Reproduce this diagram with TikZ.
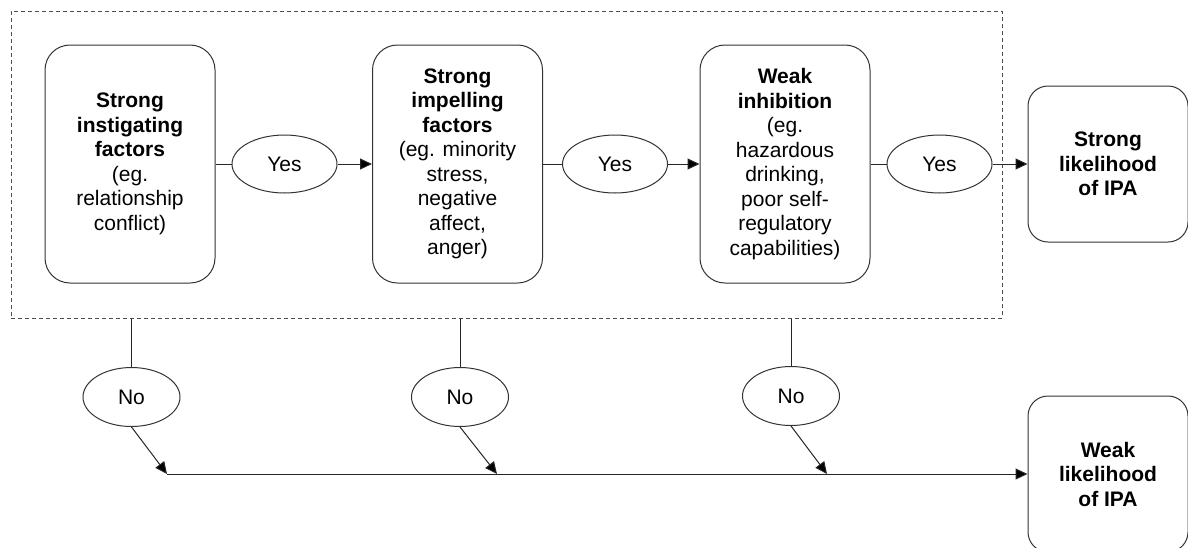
\documentclass[tikz,border=0pt]{standalone}
\usepackage{fontspec}
\setmainfont{Liberation Sans}
\usetikzlibrary{shapes.geometric,arrows.meta}
\begin{document}
\begin{tikzpicture}[x=1pt,y=-1pt,
  every node/.style={font=\fontsize{21}{24.5}\selectfont, text=black},
  stage/.style={draw=black!80, line width=1pt, rounded corners=25pt, minimum width=170pt, minimum height=238pt, align=center, inner sep=0pt},
  outcome/.style={draw=black!80, line width=1pt, rounded corners=20pt, minimum width=160pt, minimum height=156pt, align=center, inner sep=0pt},
  ans/.style={draw=black!80, line width=1pt, ellipse, minimum width=105pt, minimum height=58pt, inner sep=0pt},
  noans/.style={ans, minimum width=97pt, minimum height=59pt},
  conn/.style={draw=black!85, line width=1pt},
  arr/.style={conn, -{Triangle[length=12pt,width=11pt,fill=black]}},
  frame/.style={draw=black!70, line width=1pt, dash pattern=on 4pt off 3pt, minimum width=991pt, minimum height=307pt, inner sep=0pt}
]
\useasboundingbox (0,0) rectangle (1188,547);

\node[frame] (grp) at (506.5,164.5) {};

\node[stage] (s1) at (130,164) {\textbf{Strong}\\\textbf{instigating}\\\textbf{factors}\\(eg.\\relationship\\conflict)};
\node[stage] (s2) at (457.5,164) {\textbf{Strong}\\\textbf{impelling}\\\textbf{factors}\\(eg. minority\\stress,\\negative\\affect,\\anger)};
\node[stage] (s3) at (785,164) {\textbf{Weak}\\\textbf{inhibition}\\(eg.\\hazardous\\drinking,\\poor self-\\regulatory\\capabilities)};

\node[outcome] (strong) at (1108,164) {\textbf{Strong}\\\textbf{likelihood}\\\textbf{of IPA}};
\node[outcome] (weak) at (1108,474) {\textbf{Weak}\\\textbf{likelihood}\\\textbf{of IPA}};

\node[ans] (y1) at (284.5,164) {Yes};
\node[ans] (y2) at (615,164) {Yes};
\node[ans] (y3) at (939.5,164) {Yes};

\node[noans] (n1) at (131.5,397) {No};
\node[noans] (n2) at (460,397) {No};
\node[noans] (n3) at (791,396) {No};

\coordinate (j1) at (167,474);
\coordinate (j2) at (497,474);
\coordinate (j3) at (827,474);

\draw[conn] (s1.east) -- (y1.west);
\draw[arr] (y1.east) -- (s2.west);
\draw[conn] (s2.east) -- (y2.west);
\draw[arr] (y2.east) -- (s3.west);
\draw[conn] (s3.east) -- (y3.west);
\draw[arr] (y3.east) -- (strong.west);

\draw[conn] (grp.south -| n1) -- (n1.north);
\draw[conn] (grp.south -| n2) -- (n2.north);
\draw[conn] (grp.south -| n3) -- (n3.north);

\draw[arr] (n1.south) -- (j1);
\draw[arr] (n2.south) -- (j2);
\draw[arr] (n3.south) -- (j3);
\draw[arr] (j1) -- (weak.west);
\end{tikzpicture}
\end{document}
